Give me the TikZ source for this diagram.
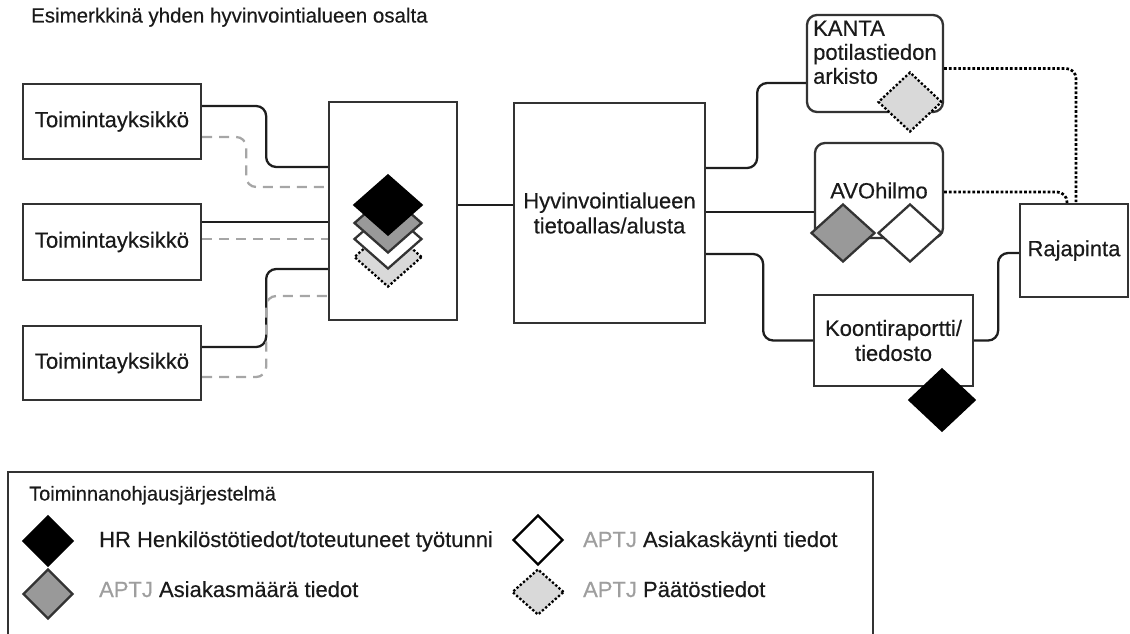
\documentclass[tikz,border=0pt]{standalone}
\usepackage{fontspec}
\setmainfont{Liberation Sans}[FakeBold=0.4]
\usetikzlibrary{shapes.geometric}
\usetikzlibrary{positioning}
\definecolor{boxline}{HTML}{333333}
\definecolor{linecol}{HTML}{1E1E1E}
\definecolor{dashgray}{HTML}{A6A6A6}
\definecolor{midfill}{HTML}{999999}
\definecolor{lightfill}{HTML}{D9D9D9}
\definecolor{aptjgray}{HTML}{9E9E9E}
\definecolor{textcol}{HTML}{1A1A1A}
\newcommand{\boxfont}{\fontsize{22}{25}\selectfont}
\newcommand{\aptj}{\textcolor{aptjgray}{APTJ}}

\begin{document}
\begin{tikzpicture}[x=1pt,y=-1pt,line width=2.3pt,text=textcol,
    box node/.style={rectangle,draw=boxline,fill=white,inner sep=0pt,font=\boxfont,align=center},
    round node/.style={box node,rounded corners=10pt},
    data node/.style={diamond,draw=boxline,inner sep=0pt,minimum width=66pt,minimum height=60pt},
    hr data/.style={data node,fill=black,draw=black},
    count data/.style={data node,fill=midfill},
    visit data/.style={data node,fill=white},
    decision data/.style={data node,fill=lightfill,draw=black,dotted},
    legend text/.style={anchor=base west,inner sep=0pt,font=\boxfont},
    link/.style={draw=linecol,rounded corners=10pt},
    feed/.style={draw=dashgray,dash pattern=on 10pt off 7pt,rounded corners=10pt},
    api link/.style={draw=black,dotted,line width=2.7pt,rounded corners=10pt}]
  \useasboundingbox (0,0) rectangle (1130,634);

  \node[anchor=base west,inner sep=0pt,font=\fontsize{20.5}{23}\selectfont] (title) at (30,22.5) {Esimerkkinä yhden hyvinvointialueen osalta};

  % units and the collecting system
  \node[box node,minimum width=178pt,minimum height=75pt] (unit1) at (112,121.5) {Toimintayksikkö};
  \node[box node,minimum width=178pt,minimum height=76pt] (unit2) at (112,242) {Toimintayksikkö};
  \node[box node,minimum width=178pt,minimum height=74pt] (unit3) at (112,363) {Toimintayksikkö};
  \node[box node,minimum width=128pt,minimum height=218pt] (stack) at (393,211) {};
  \node[decision data,minimum width=68pt] (ddot) at (388,257) {};
  \node[visit data,minimum width=68pt] (dwhite) at (388,239) {};
  \node[count data,minimum width=68pt] (dgray) at (388,223) {};
  \node[hr data,minimum width=68pt] (dblack) at (388,205) {};

  \node[box node,minimum width=191pt,minimum height=220pt] (alusta) at (609.5,213) {Hyvinvointialueen\\tietoallas/alusta};

  % receivers
  \node[round node,minimum width=136pt,minimum height=97pt] (kanta) at (875,63.5) {};
  \node[anchor=north west,inner sep=0pt,align=left,font=\fontsize{22}{24}\selectfont] (kantatext) at (812,19.5) {KANTA\\potilastiedon\\arkisto};
  \node[decision data,minimum width=64pt] (kdot) at (910,102) {};
  \node[round node,minimum width=128pt,minimum height=95pt] (avo) at (879,190.5) {AVOhilmo};
  \node[count data,minimum width=64pt,minimum height=58pt] (agray) at (843,233) {};
  \node[visit data,minimum width=64pt,minimum height=58pt] (awhite) at (910,233) {};
  \node[box node,minimum width=159pt,minimum height=91pt] (koonti) at (893.5,340.5) {Koontiraportti/\\tiedosto};
  \node[hr data,minimum width=66pt,minimum height=62pt] (kblack) at (942,400) {};
  \node[box node,minimum width=108pt,minimum height=93pt] (raja) at (1074,250.5) {Rajapinta};

  \draw[link] ([yshift=15.5pt]unit1.east) -- ++(64,0) |- ([yshift=44pt]stack.west);
  \draw[feed] ([yshift=-15.5pt]unit1.east) -- ++(44,0) |- ([yshift=24pt]stack.west);
  \draw[link] ([yshift=20pt]unit2.east) -- ([yshift=-11pt]stack.west);
  \draw[feed] ([yshift=3pt]unit2.east) -- ([yshift=-28pt]stack.west);
  \draw[link] ([yshift=16pt]unit3.east) -- ++(64,0) |- ([yshift=-58pt]stack.west);
  \draw[feed] ([yshift=-14pt]unit3.east) -- ++(64,0) |- ([yshift=-85pt]stack.west);

  \draw[link] ([yshift=6pt]stack.east) -- ([yshift=8pt]alusta.west);
  \draw[link] ([yshift=45pt]alusta.east) -- ++(51,0) |- ([yshift=-19.5pt]kanta.west);
  \draw[link] ([yshift=1pt]alusta.east) -- ([yshift=-21.5pt]avo.west);
  \draw[link] ([yshift=-41pt]alusta.east) -- ++(57,0) |- (koonti.west);
  \draw[link] (koonti.east) -- ++(24,0) |- ([yshift=-2.5pt]raja.west);
  \draw[api link] ([yshift=-5pt]kanta.east) -| ([xshift=2pt]raja.north);
  \draw[api link] ([yshift=-1.5pt]avo.east) -| ([xshift=-7pt]raja.north);

  % legend
  \draw[draw=boxline] (8,650) -- (8,472) -- (873,472) -- (873,650);
  \node[anchor=base west,inner sep=0pt,font=\fontsize{20}{22}\selectfont] (legtitle) at (28,500.5) {Toiminnanohjausjärjestelmä};
  \node[hr data,minimum width=50pt,minimum height=50pt] (lblack) at (48,541) {};
  \node[legend text] (lhr) at (98,547) {HR Henkilöstötiedot/toteutuneet työtunni};
  \node[count data,minimum width=50pt,minimum height=50pt] (lgray) at (48,594) {};
  \node[legend text] (lcount) at (98,597) {\aptj{} Asiakasmäärä tiedot};
  \node[visit data,draw=black,minimum width=50pt,minimum height=50pt] (lwhite) at (538,540) {};
  \node[legend text] (lvisit) at (582,547) {\aptj{} Asiakaskäynti tiedot};
  \node[decision data,minimum width=52pt,minimum height=46pt] (ldot) at (538,592) {};
  \node[legend text] (ldecision) at (582,597) {\aptj{} Päätöstiedot};
\end{tikzpicture}
\end{document}
